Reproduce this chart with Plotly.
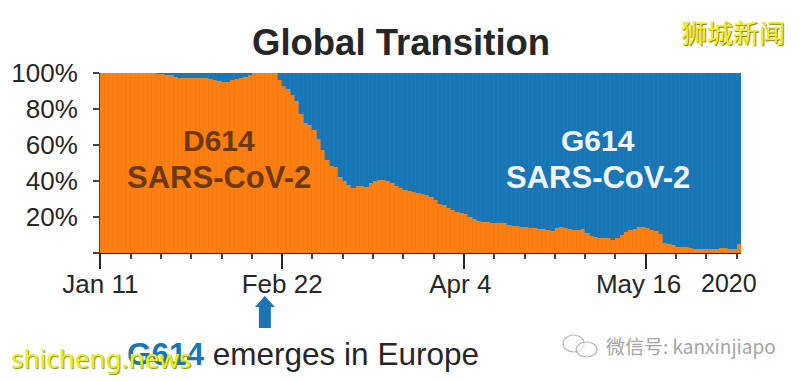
import pandas as pd
import plotly.graph_objects as go

start_date = "2020-01-11"
d614 = [100]*13 + [99.6,99.2,99,98.8,97.8,97.4,97.2,97,97.2,97,97.2,97,96.6,96,95.4,95,95.2,96,96.6,97.2,97.8,98.8,100,100,100,100,100,99.8,
96.2,92.8,91.2,88,84.2,77.5,72.5,71,68.5,63.5,57,51.5,48.2,47.8,42.5,40,38,36,37,37.2,36.5,38.8,40,40.4,40.4,40.2,38.8,37,36,34.8,34.2,33.8,33.2,33,32,31,29.5,27.4,26.4,25,24,23,22.3,21.6,20.2,19,18,17.3,17,16.8,16.8,16.7,16.5,15.5,14.9,15,14.6,14.4,14,13.8,13.6,13.6,13,12.4,13.8,14.6,14,13.5,13,12.9,13.1,11,9.6,8.8,8.6,8.6,8.5,7.4,8.4,10,11.8,13,13.6,14.2,14.5,14,13,12,10.8,5.6,4.8,4.2,3.6,3.3,3.2,3,2.2,2.4,2.3,2.2,2.1,2,2.8,2.8,2.2,2,4.8]
g614 = [0]*13 + [0.4,0.8,1,1.2,2.2,2.6,2.8,3,2.8,3,2.8,3,3.4,4,4.6,5,4.8,4,3.4,2.8,2.2,1.2,0,0,0,0,0,0.2,
3.8,7.2,8.8,12,15.8,22.5,27.5,29,31.5,36.5,43,48.5,51.8,52.2,57.5,60,62,64,63,62.8,63.5,61.2,60,59.6,59.6,59.8,61.2,63,64,65.2,65.8,66.2,66.8,67,68,69,70.5,72.6,73.6,75,76,77,77.7,78.4,79.8,81,82,82.7,83,83.2,83.2,83.3,83.5,84.5,85.1,85,85.4,85.6,86,86.2,86.4,86.4,87,87.6,86.2,85.4,86,86.5,87,87.1,86.9,89,90.4,91.2,91.4,91.4,91.5,92.6,91.6,90,88.2,87,86.4,85.8,85.5,86,87,88,89.2,94.4,95.2,95.8,96.4,96.7,96.8,97,97.8,97.6,97.7,97.8,97.9,98,97.2,97.2,97.8,98,95.2]
dates = pd.date_range(start_date, periods=len(d614), freq="D")
x_tick_dates = ["2020-01-11", "2020-02-22", "2020-04-04", "2020-05-16"]
x_tick_labels = ["Jan 11", "Feb 22", "Apr 4&nbsp;", "May 16&nbsp;&nbsp;"]
y_tick_values = [0, 20, 40, 60, 80, 100]
y_tick_labels = ["", "20%", "40%", "60%", "80%", "100%"]

# page body margin puts the figure at (8, 8) in the window
OFF = 8
W, H = 800 - OFF, 381 - OFF
L, R, T, B = 99.5 - OFF, 741 - OFF, 73 - OFF, 253 - OFF
ORANGE, BLUE, INK = "#fb7f12", "#1a75b5", "#262626"
FONT = "Liberation Sans"
px = lambda x: (x - OFF - L) / (R - L)
py = lambda y: (B - (y - OFF)) / (B - T)
DAY = 86400000

fig = go.Figure()
fig.add_bar(x=dates, y=d614, name="D614", width=DAY, offset=0, marker=dict(color=ORANGE, line=dict(width=0.4, color="#f47a10")))
fig.add_bar(x=dates, y=g614, name="G614", width=DAY, offset=0, marker=dict(color=BLUE, line=dict(width=0.4, color="#1f7cbc")))

def note(text, x, y, size, color=INK, bold=False, family=FONT, **font_extra):
    fig.add_annotation(text=f"<b>{text}</b>" if bold else text, x=px(x), y=py(y), xref="paper", yref="paper",
                       showarrow=False, xanchor="center", yanchor="middle",
                       font=dict(size=size, color=color, family=family, **font_extra))

note("Global Transition", 401, 43, 36.5, bold=True)
note("D614", 219, 140, 30, "#70380f", True)
note("SARS-CoV-2", 219, 177, 31, "#70380f", True)
note("G614", 598, 140, 30, "#eef6fb", True)
note("SARS-CoV-2", 598, 177, 31, "#eef6fb", True)
note("2020", 729, 283, 25)
note(f"<b><span style='color:{BLUE}'>G614</span></b> emerges in Europe", 302.5, 354, 31.5)
note("狮城新闻", 733, 32, 26, "#f2ee1e", family="Noto Sans CJK SC", shadow="1px 1px 1px #77771a")
note("shicheng.news", 101, 358, 26, "#e8ee20", family="Noto Sans", shadow="1px 1px 1px #8a8a20")
note("微信号: kanxinjiapo", 691, 345, 19, "#a4a4a4", family="Noto Sans CJK SC")

# up arrow under Feb 22
arrow_outline = [(264.5, 296), (274.5, 307), (270.5, 307), (270.5, 328), (258.5, 328), (258.5, 307), (254.5, 307)]
fig.add_shape(type="path", xref="paper", yref="paper", fillcolor=BLUE, line=dict(width=0),
              path="M " + " L ".join(f"{px(a):.4f},{py(b):.4f}" for a, b in arrow_outline) + " Z")

# WeChat glyph
for x0, y0, x1, y1 in [(563, 335, 584, 352), (576, 342, 597, 357)]:
    fig.add_shape(type="circle", xref="paper", yref="paper", x0=px(x0), x1=px(x1), y0=py(y0), y1=py(y1),
                  line=dict(color="#b5b5b5", width=1.2), fillcolor="rgba(255,255,255,0.6)")

fig.update_layout(
    width=W, height=H, barmode="stack", bargap=0, showlegend=False,
    paper_bgcolor="white", plot_bgcolor="white",
    margin=dict(l=L, r=W - R, t=T, b=H - B, pad=0, autoexpand=False),
    font=dict(family=FONT, color=INK, size=26),
    xaxis=dict(type="date", automargin=False, range=[dates[0] - pd.Timedelta(hours=2), dates[-1] + pd.Timedelta(hours=24)],
               tickmode="array", tickvals=x_tick_dates, ticktext=x_tick_labels, ticks="outside", ticklen=15, tickwidth=2,
               tickcolor=INK, showline=True, linecolor=INK, linewidth=1, showgrid=False, zeroline=False,
               minor=dict(dtick=7 * DAY, tick0=start_date, ticks="outside", ticklen=5, tickwidth=1.5, tickcolor="#444", showgrid=False),
               ticklabelstandoff=-7, tickfont=dict(size=26, color=INK)),
    yaxis=dict(automargin=False, range=[0, 100], tickmode="array", tickvals=y_tick_values, ticktext=y_tick_labels, ticks="outside",
               ticklen=6, tickwidth=1.5, tickcolor="#444", showline=True, linecolor="#444", linewidth=1, showgrid=False,
               zeroline=False, ticklabelstandoff=10, tickfont=dict(size=26, color=INK)),
)
fig.write_html("out.html")
